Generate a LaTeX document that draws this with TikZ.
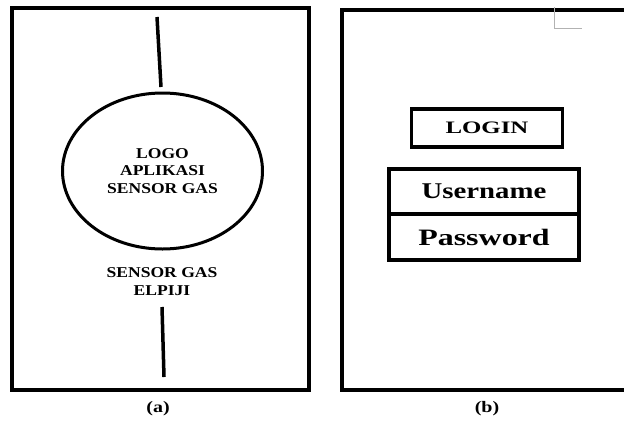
\documentclass[tikz,border=0pt]{standalone}
\usepackage{fontspec}
\usepackage{graphicx}
\setmainfont{Liberation Serif}
\usetikzlibrary{shapes.geometric,positioning}

\newcommand{\wide}[2][1.3]{\scalebox{#1}[1]{#2}}

\begin{document}
\begin{tikzpicture}[x=1pt, y=-1pt]
    % Styles
    \tikzstyle{frame} = [line width=4pt]
    \tikzstyle{stem} = [line width=3.5pt]
    \tikzstyle{logo} = [ellipse, draw, line width=3pt, minimum width=200pt, minimum height=156pt, align=center, font=\bfseries\fontsize{15}{17.5}\selectfont]
    \tikzstyle{label} = [align=center, font=\bfseries\fontsize{15}{18}\selectfont]
    \tikzstyle{field} = [rectangle, draw, line width=3.5pt, minimum width=190pt]
    \tikzstyle{caption} = [font=\bfseries\fontsize{16}{18}\selectfont]

    \useasboundingbox (0,0) rectangle (624,421);

    % Screen (a)
    \draw [frame] (12,8) rectangle (309,390);
    \coordinate (topA) at (157,17);
    \coordinate (topB) at (161,87);
    \coordinate (botA) at (162,307);
    \coordinate (botB) at (164,377);
    \node [logo] (logo) at (162.5,171) {\wide[1.17]{LOGO}\\\wide[1.17]{APLIKASI}\\\wide[1.17]{SENSOR GAS}};
    \node [label] (name) at (162,282) {\wide[1.17]{SENSOR GAS}\\\wide[1.17]{ELPIJI}};
    \draw [stem] (topA) -- (topB);
    \draw [stem] (botA) -- (botB);
    \node [caption] (capa) at (158,409) {\wide[1.25]{(a)}};

    % Screen (b)
    \draw [frame] (640,10) -- (342,10) -- (342,390) -- (640,390);
    \draw [gray!60, line width=1pt] (554,7) -- (554,28) -- (582,28);
    \node [field, minimum width=151pt, minimum height=38pt, font=\bfseries\fontsize{17.5}{20}\selectfont] (login) at (487,128) {\wide[1.42]{LOGIN}};
    \node [field, minimum height=45pt, font=\bfseries\fontsize{22.5}{24}\selectfont] (user) at (484,191.5) {\wide[1.28]{Username}};
    \node [field, minimum height=46pt, font=\bfseries\fontsize{23.5}{26}\selectfont] (pass) at (484,237) {\wide[1.36]{Password}};
    \node [caption] (capb) at (487,409) {\wide[1.25]{(b)}};
\end{tikzpicture}
\end{document}
